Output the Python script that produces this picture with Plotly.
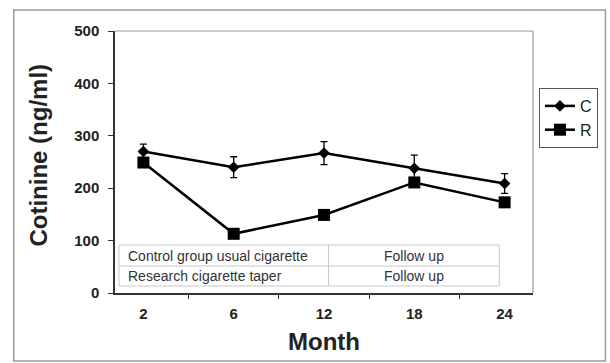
import plotly.graph_objects as go

months = ["2", "6", "12", "18", "24"]
control = [270, 240, 267, 238, 209]
control_err = [14, 20, 22, 25, 19]
research = [249, 113, 149, 211, 173]
research_err = [6, 5, 6, 8, 7]

table_rows = ["Control group usual cigarette", "Research cigarette taper"]
table_phase = ["Follow up", "Follow up"]

L, R, T, B = 115, 74, 31, 70
W, H = 610, 363
pw, ph = W - L - R, H - T - B

def px_x(p):
    return (p - L) / pw

def px_y(p):
    return (H - B - p) / ph

fig = go.Figure()
fig.add_trace(go.Scatter(
    x=months, y=control, name="C", mode="lines+markers",
    line=dict(color="black", width=2.5),
    marker=dict(symbol="diamond", size=9, color="black"),
    error_y=dict(type="data", array=control_err, color="black", thickness=1.3, width=3.5),
))
fig.add_trace(go.Scatter(
    x=months, y=research, name="R", mode="lines+markers",
    line=dict(color="black", width=2.5),
    marker=dict(symbol="square", size=12, color="black"),
    error_y=dict(type="data", array=research_err, color="black", thickness=1.3, width=3.5),
))

shapes = []
# outer frame
shapes.append(dict(type="rect", xref="paper", yref="paper",
                   x0=px_x(13), x1=px_x(609), y0=px_y(361), y1=px_y(10),
                   line=dict(color="#9a9a9a", width=1.5), layer="below"))
# plot box top/right edges
shapes.append(dict(type="line", xref="paper", yref="paper", x0=0, x1=1, y0=1, y1=1,
                   line=dict(color="#9a9a9a", width=1.2)))
shapes.append(dict(type="line", xref="paper", yref="paper", x0=1, x1=1, y0=0, y1=1,
                   line=dict(color="#9a9a9a", width=1.2)))

# inset table
tx0, tx1, tx2 = px_x(119), px_x(330), px_x(502)
ty0, ty1, ty2 = px_y(286), px_y(266), px_y(245)
grid = dict(color="#c8c8c8", width=1)
shapes.append(dict(type="rect", xref="paper", yref="paper", x0=tx0, x1=tx2, y0=ty0, y1=ty2,
                   line=grid, fillcolor="white"))
shapes.append(dict(type="line", xref="paper", yref="paper", x0=tx0, x1=tx2, y0=ty1, y1=ty1, line=grid))
shapes.append(dict(type="line", xref="paper", yref="paper", x0=tx1, x1=tx1, y0=ty0, y1=ty2, line=grid))

annotations = []
row_y = [(ty1 + ty2) / 2, (ty0 + ty1) / 2]
for label, phase, yy in zip(table_rows, table_phase, row_y):
    annotations.append(dict(xref="paper", yref="paper", x=px_x(126), y=yy, text=label,
                            showarrow=False, xanchor="left", yanchor="middle",
                            font=dict(family="Arial", size=14, color="#333333")))
    annotations.append(dict(xref="paper", yref="paper", x=(tx1 + tx2) / 2, y=yy, text=phase,
                            showarrow=False, xanchor="center", yanchor="middle",
                            font=dict(family="Arial", size=14, color="#333333")))

annotations.append(dict(xref="paper", yref="paper", x=px_x(37), y=px_y(155),
                        xanchor="center", yanchor="middle",
                        text="<b>Cotinine (ng/ml)</b>", textangle=-90, showarrow=False,
                        font=dict(family="Arial", size=24, color="#222222")))
annotations.append(dict(xref="paper", yref="paper", x=px_x(326), y=px_y(341),
                        xanchor="center", yanchor="middle",
                        text="<b>Month</b>", showarrow=False,
                        font=dict(family="Arial", size=24, color="#222222")))

fig.update_layout(
    width=W, height=H,
    margin=dict(l=L, r=R, t=T, b=B),
    paper_bgcolor="white", plot_bgcolor="white",
    showlegend=True,
    legend=dict(x=px_x(542), y=px_y(88), xanchor="left", yanchor="top",
                bordercolor="#555555", borderwidth=1, bgcolor="white",
                font=dict(family="Arial", size=16, color="#222222"),
                itemwidth=30, tracegroupgap=4),
    shapes=shapes, annotations=annotations,
    xaxis=dict(type="category", showline=True, linecolor="#333333", linewidth=1.5,
               ticks="outside", tickson="boundaries", ticklen=4, tickcolor="#333333",
               showgrid=False, zeroline=False, ticklabelstandoff=6,
               tickfont=dict(family="Arial", size=15, color="#222222"),
               tickprefix="<b>", ticksuffix="</b>"),
    yaxis=dict(range=[0, 500], dtick=100, showline=True, linecolor="#333333", linewidth=1.5,
               ticks="outside", ticklen=5, tickcolor="#333333",
               showgrid=False, zeroline=False, ticklabelstandoff=6,
               tickfont=dict(family="Arial", size=15, color="#222222"),
               tickprefix="<b>", ticksuffix="</b>"),
)

fig.write_html("out.html")
